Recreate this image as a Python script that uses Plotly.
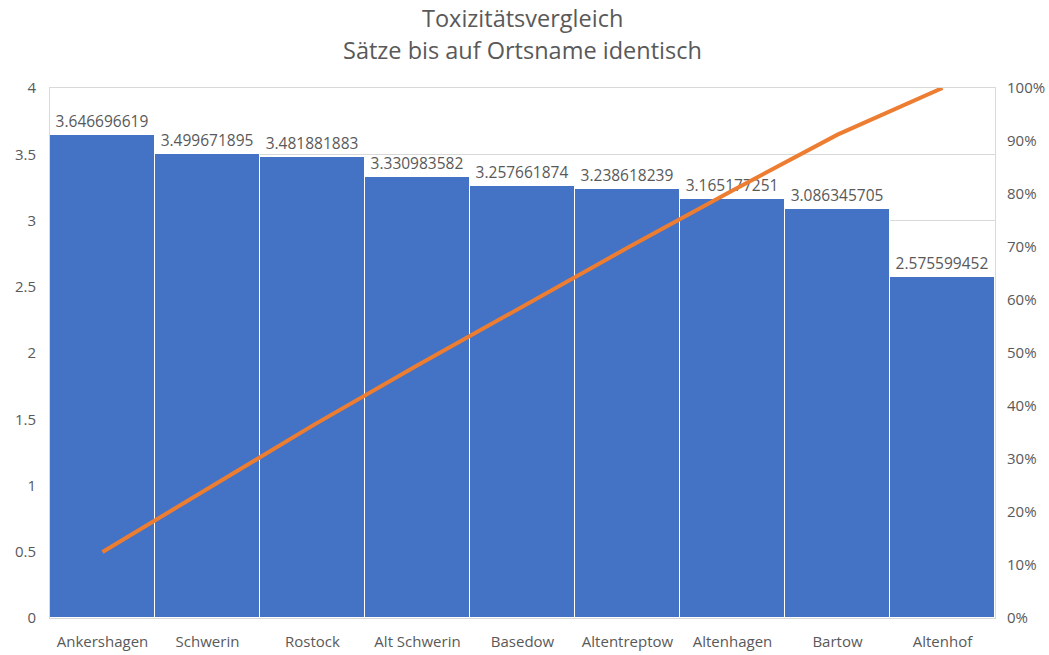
import plotly.graph_objects as go

categories = ["Ankershagen", "Schwerin", "Rostock", "Alt Schwerin", "Basedow",
              "Altentreptow", "Altenhagen", "Bartow", "Altenhof"]
values = [3.646696619, 3.499671895, 3.481881883, 3.330983582, 3.257661874,
          3.238618239, 3.165177251, 3.086345705, 2.575599452]
value_labels = ["3.646696619", "3.499671895", "3.481881883", "3.330983582", "3.257661874",
                "3.238618239", "3.165177251", "3.086345705", "2.575599452"]

total = sum(values)
cumulative = []
run = 0.0
for v in values:
    run += v
    cumulative.append(run / total)

FONT = "Open Sans"
GREY = "#595959"
W, H = 1049, 655
ML, MR, MT, MB = 50, 54, 88, 37
PH = H - MT - MB


def title_y(px):
    return (H - MB - px) / PH


fig = go.Figure()
fig.add_trace(go.Bar(
    x=categories, y=values, text=value_labels, textposition="outside",
    textfont=dict(family=FONT, size=15.5, color=GREY),
    marker=dict(color="#4472C4", line=dict(color="white", width=1)),
    cliponaxis=False, showlegend=False,
))
fig.add_trace(go.Scatter(
    x=categories, y=cumulative, yaxis="y2", mode="lines",
    line=dict(color="#ED7D31", width=4), showlegend=False,
))

fig.update_layout(
    width=W, height=H,
    margin=dict(l=ML, r=MR, t=MT, b=MB, autoexpand=False),
    paper_bgcolor="white", plot_bgcolor="white",
    bargap=0,
    annotations=[
        dict(text="Toxizitätsvergleich", x=0.5, xref="paper", xanchor="center",
             y=title_y(18), yref="paper", yanchor="middle", showarrow=False,
             font=dict(family=FONT, size=23.5, color=GREY)),
        dict(text="Sätze bis auf Ortsname identisch", x=0.5, xref="paper", xanchor="center",
             y=title_y(50), yref="paper", yanchor="middle", showarrow=False,
             font=dict(family=FONT, size=23.5, color=GREY)),
    ],
    font=dict(family=FONT, color=GREY),
    xaxis=dict(showline=True, mirror=True, linecolor="#d9d9d9", linewidth=1, automargin=False,
               tickfont=dict(family=FONT, size=15, color=GREY),
               ticks="outside", ticklen=10, tickcolor="rgba(0,0,0,0)",
               showgrid=False),
    yaxis=dict(range=[0, 4], tickvals=[0, 0.5, 1, 1.5, 2, 2.5, 3, 3.5, 4],
               ticktext=["0", "0.5", "1", "1.5", "2", "2.5", "3", "3.5", "4"],
               showgrid=True, gridcolor="#d9d9d9", automargin=False,
               showline=True, linecolor="#d9d9d9", zeroline=False,
               tickfont=dict(family=FONT, size=15, color=GREY),
               ticks="outside", ticklen=10, tickcolor="rgba(0,0,0,0)"),
    yaxis2=dict(range=[0, 1], tickvals=[i / 10 for i in range(11)],
                ticktext=[f"{i * 10}%" for i in range(11)],
                overlaying="y", side="right", automargin=False,
                showgrid=False, showline=True, linecolor="#d9d9d9", zeroline=False,
                tickfont=dict(family=FONT, size=15, color=GREY),
                ticks="outside", ticklen=8, tickcolor="rgba(0,0,0,0)"),
)

fig.write_html("out.html", config={"displayModeBar": False},
               post_script="document.body.style.margin='0';")
